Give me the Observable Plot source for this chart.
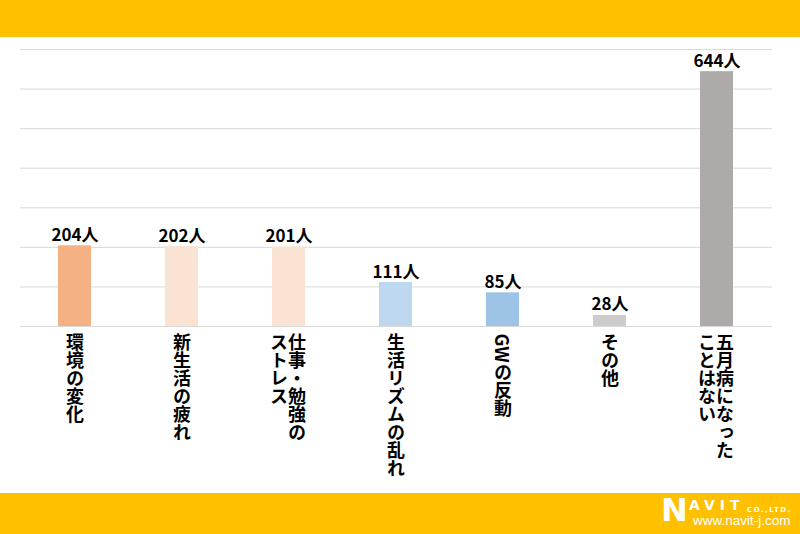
<!DOCTYPE html>
<html><head><meta charset="utf-8">
<script src="https://cdn.jsdelivr.net/npm/d3@7"></script>
<script src="https://cdn.jsdelivr.net/npm/@observablehq/plot@0.6"></script>
<style>
html,body{margin:0;padding:0;background:#fff;width:800px;height:534px;overflow:hidden;font-family:"Noto Sans CJK JP","Noto Sans",sans-serif;}
#top{height:37px;background:#FFC000;}
#chart{height:456px;}
#bottom{position:absolute;left:0;top:493px;width:800px;height:41px;background:#FFC000;color:#fff;}
#bottom span{position:absolute;white-space:nowrap;line-height:1;font-family:"DejaVu Sans",sans-serif;}
.vlab text{writing-mode:vertical-rl;}
</style></head><body>
<div id="top"></div>
<div id="chart"></div>
<div id="bottom">
  <span style="left:661px;top:1px;font-size:32px;font-weight:bold;">N</span>
  <span style="left:689px;top:5px;font-size:14px;font-weight:bold;letter-spacing:5px;">AVIT</span>
  <span style="left:747px;top:14px;font-size:7px;font-weight:bold;letter-spacing:1.5px;">CO.,LTD.</span>
  <span style="left:693px;top:20.5px;font-size:13.5px;font-family:'Liberation Sans',sans-serif;">www.navit-j.com</span>
</div>
<script>
const categories = ["環境の変化", "新生活の疲れ", "仕事・勉強の\nストレス", "生活リズムの乱れ", "GWの反動", "その他", "五月病になった\nことはない"];
const values = [204, 202, 201, 111, 85, 28, 644];
const unit = "人";
const gridTicks = [0, 100, 200, 300, 400, 500, 600, 700];

const data = categories.map((c, i) => ({category: c, value: values[i]}));
const cols = data.flatMap(d => {
  const parts = d.category.split("\n");
  return parts.map((t, j) => ({category: d.category, text: t, col: j, ncol: parts.length}));
});
const colTexts = cols.map(d => d.text);

const labelOpts = {x: "category", y: d => 0, text: "text", dy: 7, textAnchor: "start", lineAnchor: "bottom",
  fontSize: 18, fontWeight: "bold", fill: "#000", className: "vlab"};

const svg = Plot.plot({
  width: 800, height: 456,
  marginTop: 12, marginBottom: 167, marginLeft: 20, marginRight: 28,
  style: {fontFamily: "'Noto Sans CJK JP', sans-serif", background: "transparent"},
  x: {domain: categories, paddingInner: 0.69, paddingOuter: 0.345, axis: null},
  y: {domain: [0, 700], axis: null},
  color: {domain: categories, range: ["#F4B183", "#FBE3D4", "#FBE3D4", "#BDD7EE", "#9DC3E6", "#CDCBCB", "#AEAAAA"]},
  marks: [
    Plot.ruleY(gridTicks, {stroke: "#d9d9d9", strokeWidth: 1}),
    Plot.barY(data, {x: "category", y: "value", fill: "category"}),
    Plot.text(data, {x: "category", y: "value", text: d => d.value + unit, dy: -5, lineAnchor: "bottom",
      fontSize: 17, fontWeight: "bold", fill: "#000"}),
    Plot.text(cols.filter(d => d.ncol === 1), {...labelOpts}),
    Plot.text(cols.filter(d => d.ncol > 1 && d.col === 0), {...labelOpts, dx: 8}),
    Plot.text(cols.filter(d => d.ncol > 1 && d.col === 1), {...labelOpts, dx: -10})
  ]
});
d3.select(svg).selectAll("text").filter(function() { return colTexts.includes(this.textContent); })
  .style("writing-mode", "vertical-rl");
document.getElementById("chart").appendChild(svg);
</script>
</body></html>
